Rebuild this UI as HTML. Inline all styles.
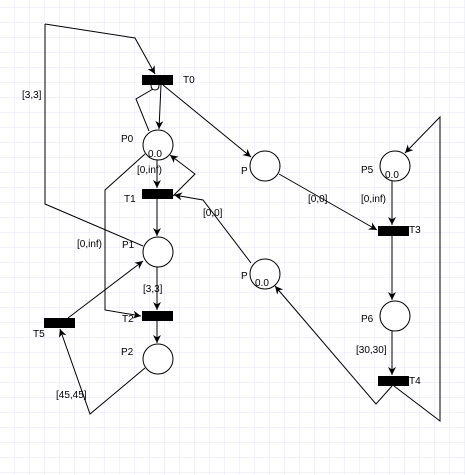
<!DOCTYPE html>
<html><head><meta charset="utf-8"><style>
html,body{margin:0;padding:0;background:#fff}
svg{display:block}
text{font-family:"Liberation Sans",sans-serif;font-size:10px;fill:#000}
</style></head><body>
<svg width="465" height="475" viewBox="0 0 465 475" xmlns="http://www.w3.org/2000/svg">
<defs>
<pattern id="grid" x="0" y="8" width="15" height="15" patternUnits="userSpaceOnUse">
<path d="M15 0V15M0 15H15" fill="none" stroke="#e4e4f6" stroke-width="1"/>
</pattern>
<marker id="ar" viewBox="0 0 10 10" refX="10" refY="5" markerWidth="8" markerHeight="8" orient="auto" markerUnits="userSpaceOnUse">
<path d="M0,0 L10,5 L0,10 L3,5 z" fill="#000"/>
</marker>
</defs>
<rect width="465" height="475" fill="url(#grid)"/>
<g fill="none" stroke="#000" stroke-width="1">
<polyline points="45,24 135,38 155,74" marker-end="url(#ar)"/>
<polyline points="45,24 45,204 143,246"/>
<line x1="161" y1="85" x2="159" y2="129" marker-end="url(#ar)"/>
<path d="M151,85 q0,5 4,5 q4,0 4,-5"/>
<polyline points="153,89 136,99 149,131"/>
<line x1="163" y1="85" x2="251" y2="157" marker-end="url(#ar)"/>
<line x1="157" y1="160" x2="157" y2="188" marker-end="url(#ar)"/>
<polyline points="173,196 195,174 170,155" marker-end="url(#ar)"/>
<polyline points="251,263 203,200 174,195" marker-end="url(#ar)"/>
<polyline points="145,154 105,190 105,310 141,316" marker-end="url(#ar)"/>
<line x1="157" y1="199" x2="157" y2="236" marker-end="url(#ar)"/>
<line x1="157" y1="267" x2="157" y2="310" marker-end="url(#ar)"/>
<line x1="157" y1="321" x2="157" y2="343" marker-end="url(#ar)"/>
<polyline points="145,368 90,414 60,329" marker-end="url(#ar)"/>
<line x1="68" y1="318" x2="143" y2="261" marker-end="url(#ar)"/>
<line x1="279" y1="174" x2="377" y2="230" marker-end="url(#ar)"/>
<line x1="392" y1="181" x2="392" y2="225" marker-end="url(#ar)"/>
<line x1="392" y1="236" x2="392" y2="300" marker-end="url(#ar)"/>
<line x1="392" y1="331" x2="392" y2="375" marker-end="url(#ar)"/>
<polyline points="392,386 376,404 275,286" marker-end="url(#ar)"/>
<polyline points="394,386 440,421 440,117 405,153" marker-end="url(#ar)"/>
</g>
<g fill="#fff" stroke="#000" stroke-width="1">
<circle cx="158" cy="145" r="15"/>
<circle cx="158" cy="252" r="15"/>
<circle cx="158" cy="359" r="15"/>
<circle cx="265" cy="166" r="15"/>
<circle cx="265" cy="274" r="15"/>
<circle cx="395" cy="166" r="15"/>
<circle cx="395" cy="316" r="15"/>
</g>
<g fill="#000">
<rect x="142" y="75" width="31" height="10"/>
<rect x="142" y="189" width="31" height="10"/>
<rect x="142" y="311" width="31" height="10"/>
<rect x="44" y="318" width="31" height="10"/>
<rect x="378" y="226" width="31" height="10"/>
<rect x="378" y="376" width="31" height="10"/>
</g>
<g>
<text x="183" y="83">T0</text>
<text x="121" y="142">P0</text>
<text x="124" y="202">T1</text>
<text x="122" y="248">P1</text>
<text x="122" y="322">T2</text>
<text x="121" y="355">P2</text>
<text x="33" y="337">T5</text>
<text x="241" y="174">P</text>
<text x="241" y="279">P</text>
<text x="361" y="173">P5</text>
<text x="409" y="233">T3</text>
<text x="361" y="322">P6</text>
<text x="409" y="384">T4</text>
<text x="148" y="157" font-size="11">0.0</text>
<text x="255" y="286" font-size="11">0.0</text>
<text x="385" y="178" font-size="11">0.0</text>
<text x="22" y="98">[3,3]</text>
<text x="137" y="173">[0,inf)</text>
<text x="203" y="216">[0,0]</text>
<text x="308" y="202">[0,0]</text>
<text x="77" y="247">[0,inf)</text>
<text x="143" y="292">[3,3]</text>
<text x="56" y="398">[45,45]</text>
<text x="361" y="202">[0,inf)</text>
<text x="356" y="353">[30,30]</text>
</g>
</svg>
</body></html>
